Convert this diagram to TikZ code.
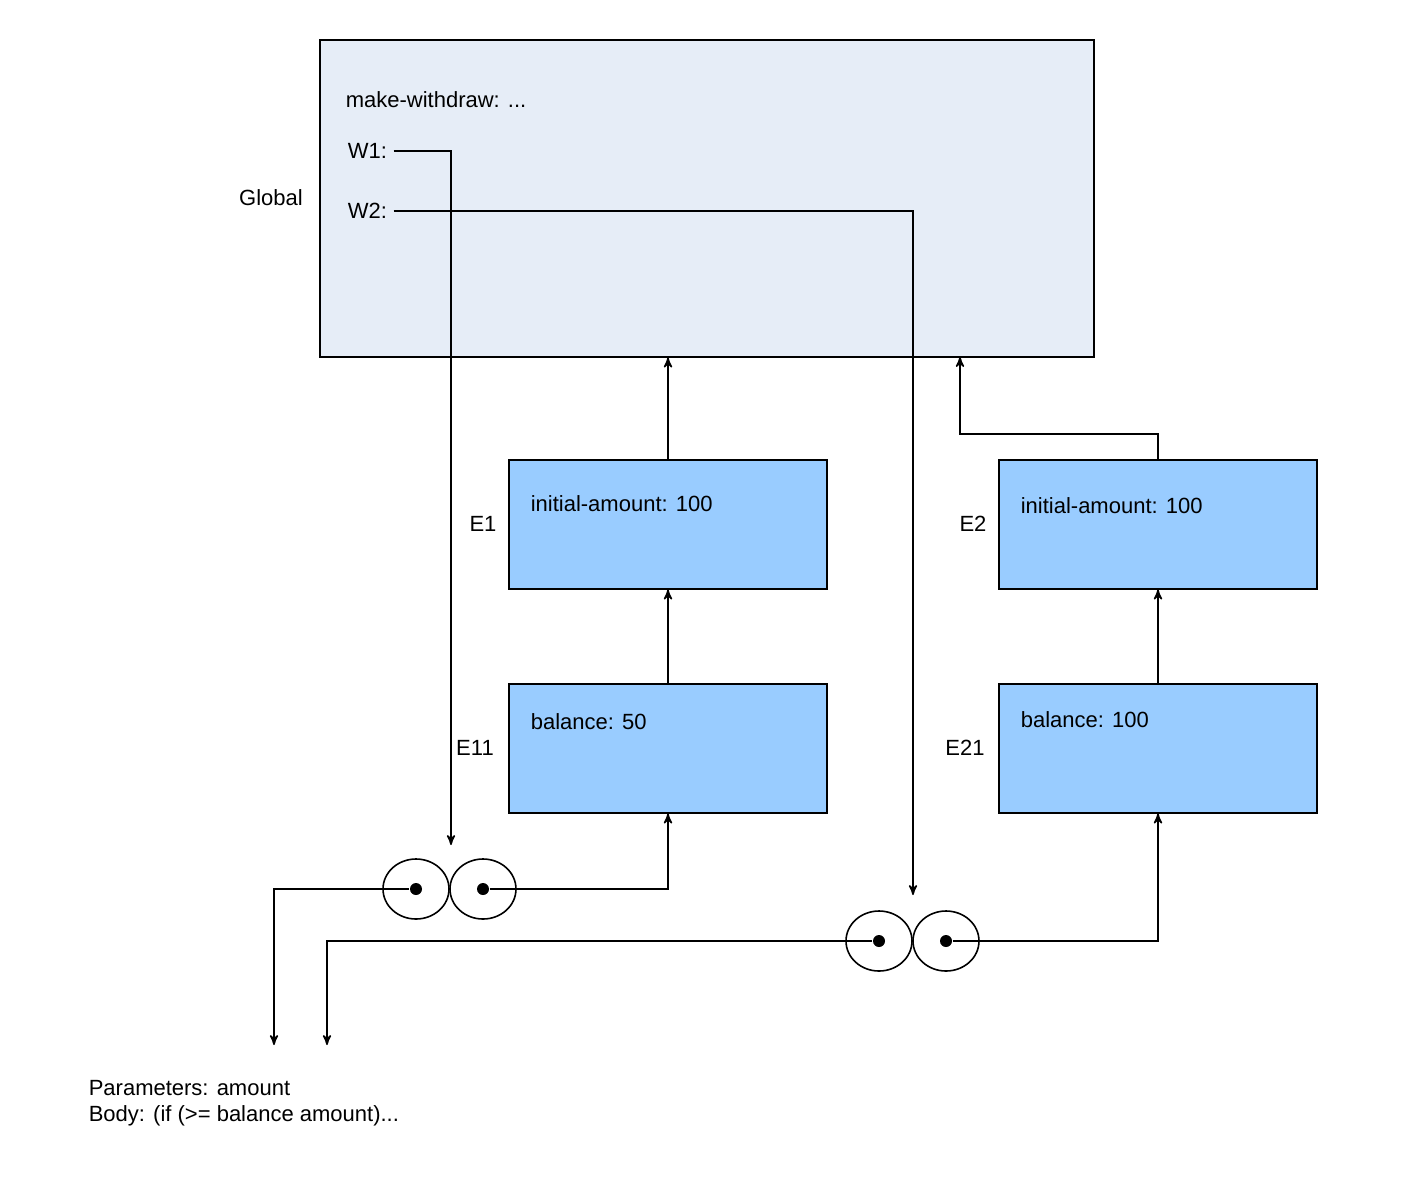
\documentclass[tikz,border=0pt]{standalone}
\usepackage{fontspec}
\setmainfont{Liberation Sans}
\usetikzlibrary{arrows,positioning,shapes.geometric}
\definecolor{globalfill}{HTML}{E6EDF7}
\definecolor{framefill}{HTML}{99CCFF}
\tikzset{
  frame/.style={draw,fill=framefill,semithick},
  lbl/.style={font=\fontsize{11}{13}\selectfont,inner sep=0pt},
  cell/.style={draw,ellipse,minimum width=33pt,minimum height=30pt,inner sep=0pt,fill=white},
  dot/.style={circle,fill=black,inner sep=0pt,minimum size=6pt}
}
\begin{document}
\begin{tikzpicture}[x=0.5pt,y=-0.5pt,->,>=stealth',thick]
  \useasboundingbox (0,0) rectangle (1420,1180);
  % global environment
  \node[draw,semithick,fill=globalfill,minimum width=387pt,minimum height=158.5pt,inner sep=0pt] (G) at (707,198.5) {};
  \node[lbl] (glabel) at (271,198) {Global};
  \node[lbl,anchor=west] (mw) at (345,100) {make-withdraw: ...};
  \node[lbl,anchor=west] (w1) at (347,151) {W1:};
  \node[lbl,anchor=west] (w2) at (347,211) {W2:};
  % frames
  \node[frame,minimum width=159pt,minimum height=64.5pt] (E1) at (668,524.5) {};
  \node[frame,minimum width=159pt,minimum height=64.5pt] (E11) at (668,748.5) {};
  \node[frame,minimum width=159pt,minimum height=64.5pt] (E2) at (1158,524.5) {};
  \node[frame,minimum width=159pt,minimum height=64.5pt] (E21) at (1158,748.5) {};
  \node[lbl,anchor=west] (t1) at (530,504) {initial-amount: 100};
  \node[lbl,anchor=west] (t11) at (530,722) {balance: 50};
  \node[lbl,anchor=west] (t2) at (1020,506) {initial-amount: 100};
  \node[lbl,anchor=west] (t21) at (1020,720) {balance: 100};
  \node[lbl] (l1) at (483,524) {E1};
  \node[lbl] (l11) at (475,748) {E11};
  \node[lbl] (l2) at (973,524) {E2};
  \node[lbl] (l21) at (965,748) {E21};
  % procedure objects
  \node[cell] (p1a) at (416,889) {};
  \node[cell] (p1b) at (483,889) {};
  \node[cell] (p2a) at (879,941) {};
  \node[cell] (p2b) at (946,941) {};
  \foreach \c in {p1a,p1b,p2a,p2b} \node[dot] (\c d) at (\c) {};
  \coordinate (code1) at (274,1045);
  \coordinate (code2) at (327,1045);
  \node[lbl,anchor=north west,align=left] (code) at (88,1080) {Parameters: amount\\Body: (if (>= balance amount)...};
  % pointers
  \draw (w1.east) ++(6,0) -| (451,845);
  \draw (w2.east) ++(6,0) -| (913,895);
  \draw (E1.north) -- (G.south -| E1.north);
  \draw (E11.north) -- (E1.south);
  \draw (E2.north) |- (960,434) -- (960,357);
  \draw (E21.north) -- (E2.south);
  \draw (p1bd) -| (E11.south);
  \draw (p2bd) -| (E21.south);
  \draw (p1ad) -| (code1);
  \draw (p2ad) -| (code2);
\end{tikzpicture}
\end{document}
